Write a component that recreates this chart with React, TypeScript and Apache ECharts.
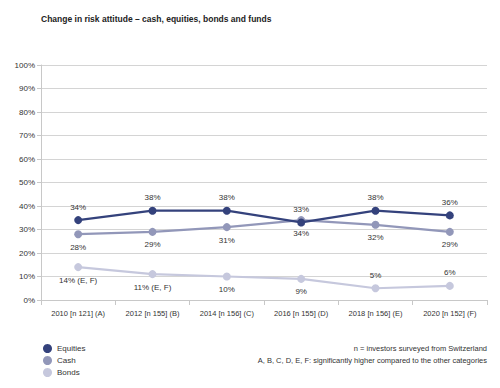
import React, { useEffect, useRef } from "react";
import * as echarts from "echarts";

const categories = [
  "2010 [n 121] (A)",
  "2012 [n 155] (B)",
  "2014 [n 156] (C)",
  "2016 [n 155] (D)",
  "2018 [n 156] (E)",
  "2020 [n 152] (F)",
];
const equities = [34, 38, 38, 33, 38, 36];
const cash = [28, 29, 31, 34, 32, 29];
const bonds = [14, 11, 10, 9, 5, 6];
const equitiesLabelPos = ["top", "top", "top", "top", "top", "top"];
const cashLabelPos = ["bottom", "bottom", "bottom", "bottom", "bottom", "bottom"];
const bondsLabelPos = ["bottom", "bottom", "bottom", "bottom", "top", "top"];
const bondsNotes = [" (E, F)", " (E, F)", "", "", "", ""];

const FONT = "Liberation Sans, Arial, sans-serif";
const COLORS = { equities: "#34427c", cash: "#9297b9", bonds: "#c6c8dd" };

function mkData(vals: number[], pos: string[], notes?: string[]) {
  return vals.map((v, i) => ({
    value: v,
    label: {
      position: pos[i],
      formatter: `${v}%${notes ? notes[i] : ""}`,
    },
  }));
}

export default function App() {
  const ref = useRef<HTMLDivElement>(null);
  useEffect(() => {
    const chart = echarts.init(ref.current!, undefined, { renderer: "svg" });
    const labelStyle = {
      show: true,
      fontSize: 8,
      color: "#333",
      fontFamily: FONT,
      distance: 5,
    };
    const series = (name: string, vals: number[], pos: string[], color: string, notes?: string[]) => ({
      name,
      type: "line",
      data: mkData(vals, pos, notes),
      symbol: "circle",
      symbolSize: 8,
      lineStyle: { width: 2.2, color },
      itemStyle: { color },
      label: labelStyle,
      z: name === "Equities" ? 5 : 3,
    });
    chart.setOption({
      animation: false,
      textStyle: { fontFamily: FONT },
      title: {
        text: "Change in risk attitude – cash, equities, bonds and funds",
        left: 36,
        top: 9,
        textStyle: { fontSize: 8.5, fontWeight: "bold", color: "#222", fontFamily: FONT },
      },
      grid: { left: 41, right: 13, top: 65, bottom: 88 },
      legend: {
        orient: "vertical",
        left: 38,
        top: 339,
        icon: "circle",
        itemWidth: 9,
        itemHeight: 9,
        itemGap: 3,
        textStyle: { fontSize: 8, color: "#333", fontFamily: FONT },
        data: ["Equities", "Cash", "Bonds"],
      },
      xAxis: {
        type: "category",
        data: categories,
        boundaryGap: true,
        axisLine: { show: true, lineStyle: { color: "#c8c8c8" } },
        axisTick: { show: true, length: 5, lineStyle: { color: "#c8c8c8" } },
        axisLabel: { fontSize: 7.5, color: "#333", margin: 9, fontFamily: FONT },
      },
      yAxis: {
        type: "value",
        min: 0,
        max: 100,
        interval: 10,
        axisLine: { show: true, lineStyle: { color: "#c8c8c8" } },
        axisTick: { show: true, length: 4, lineStyle: { color: "#c8c8c8" } },
        axisLabel: { fontSize: 8, color: "#333", formatter: "{value}%", margin: 6, fontFamily: FONT },
        splitLine: { lineStyle: { color: "#d4d4d4" } },
      },
      graphic: [
        {
          type: "text",
          right: 13,
          top: 344,
          style: {
            text: "n = investors surveyed from Switzerland",
            fontSize: 7.5,
            fill: "#333",
            fontFamily: FONT,
            textAlign: "right",
          },
        },
        {
          type: "text",
          right: 13,
          top: 356,
          style: {
            text: "A, B, C, D, E, F: significantly higher compared to the other categories",
            fontSize: 7.5,
            fill: "#333",
            fontFamily: FONT,
            textAlign: "right",
          },
        },
      ],
      series: [
        series("Equities", equities, equitiesLabelPos, COLORS.equities),
        series("Cash", cash, cashLabelPos, COLORS.cash),
        series("Bonds", bonds, bondsLabelPos, COLORS.bonds, bondsNotes),
      ],
    });
    return () => chart.dispose();
  }, []);
  return <div ref={ref} style={{ width: 500, height: 388, position: "absolute", left: 0, top: 0 }} />;
}
